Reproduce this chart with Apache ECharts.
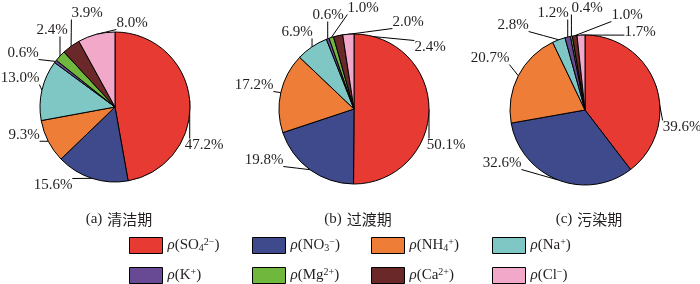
<!DOCTYPE html>
<html>
<head>
<meta charset="utf-8">
<script src="https://cdn.jsdelivr.net/npm/echarts@6/dist/echarts.min.js"></script>
<style>html,body{margin:0;padding:0;background:#fff;}#c{width:700px;height:284px;}</style>
</head>
<body>
<div id="c"></div>
<script>
var ions = ['SO4', 'NO3', 'NH4', 'Na', 'K', 'Mg', 'Ca', 'Cl'];
var captions = ['(a)', '(b)', '(c)'];
var periods = ['清洁期', '过渡期', '污染期'];
var cleanValues = [47.2, 15.6, 9.3, 13.0, 0.6, 2.4, 3.9, 8.0];
var transitionValues = [50.1, 19.8, 17.2, 6.9, 0.6, 1.0, 2.0, 2.4];
var pollutedValues = [39.6, 32.6, 20.7, 2.8, 1.2, 0.4, 1.0, 1.7];
var periodValues = [cleanValues, transitionValues, pollutedValues];

// styling / layout (not data)
var colors = ['#E63A32', '#3E4A8C', '#EE7E37', '#7EC7C5', '#684A94', '#70B83D', '#6B2828', '#F1A8C9'];
var centers = [[115, 107], [354, 109], [585, 110]];
var radius = 75;
var labelOffsets = [
  [[89, 38], [-62, 78], [-91, 28], [-95, -29], [-92, -54], [-63, -77], [-28, -94], [17, -84]],
  [[92, 36], [-90, 51], [-100, -24], [-57, -77], [-26, -94], [9, -101], [54, -87], [76, -62]],
  [[97, 17], [-83, 53], [-95, -52], [-72, -85], [-32, -97], [2, -102], [42, -95], [55, -78]]
];
var legendRich = {
  SO4: '{i|ρ}{t|(SO}{sub|4}{sup|2−}{t|)}',
  NO3: '{i|ρ}{t|(NO}{sub|3}{sup|−}{t|)}',
  NH4: '{i|ρ}{t|(NH}{sub|4}{sup|+}{t|)}',
  Na: '{i|ρ}{t|(Na}{sup|+}{t|)}',
  K: '{i|ρ}{t|(K}{sup|+}{t|)}',
  Mg: '{i|ρ}{t|(Mg}{sup|2+}{t|)}',
  Ca: '{i|ρ}{t|(Ca}{sup|2+}{t|)}',
  Cl: '{i|ρ}{t|(Cl}{sup|−}{t|)}'
};
var serif = '"Liberation Serif", "Times New Roman", serif';

var series = periodValues.map(function (vals, s) {
  return {
    type: 'pie',
    center: centers[s],
    radius: radius,
    startAngle: 90,
    clockwise: true,
    animation: false,
    avoidLabelOverlap: false,
    itemStyle: { borderColor: '#000', borderWidth: 1 },
    emphasis: { disabled: true },
    label: {
      show: true,
      position: 'outside',
      formatter: function (p) { return p.value.toFixed(1) + '%'; },
      fontFamily: serif,
      fontSize: 15,
      color: '#231F20'
    },
    labelLine: { show: true, length: 8, length2: 8, lineStyle: { color: '#000', width: 1 } },
    labelLayout: function (p) {
      var off = labelOffsets[s][p.dataIndex];
      var x = centers[s][0] + off[0];
      var y = centers[s][1] + off[1];
      var w = p.labelRect.width, h = p.labelRect.height;
      var res = { x: x, y: y, align: 'center', verticalAlign: 'middle' };
      if (p.labelLinePoints && p.labelLinePoints[0]) {
        var st = p.labelLinePoints[0];
        var ex = Math.min(Math.max(st[0], x - w / 2), x + w / 2);
        var ey = Math.min(Math.max(st[1], y - h / 2 + 1), y + h / 2 - 1);
        res.labelLinePoints = [st, [(st[0] + ex) / 2, (st[1] + ey) / 2], [ex, ey]];
      }
      return res;
    },
    data: ions.map(function (n, i) {
      return { name: n, value: vals[i], itemStyle: { color: colors[i] } };
    })
  };
});

var legendLeft = [129, 252, 371, 492];
var legendTop = [237, 267];
var legends = ions.map(function (name, i) {
  return {
    orient: 'horizontal',
    left: legendLeft[i % 4],
    top: legendTop[Math.floor(i / 4)],
    padding: 0,
    itemWidth: 33,
    itemHeight: 16,
    icon: 'rect',
    selectedMode: false,
    itemStyle: { borderColor: '#000', borderWidth: 1 },
    data: [name],
    formatter: function (n) { return legendRich[n]; },
    textStyle: {
      fontFamily: serif,
      fontSize: 15,
      color: '#231F20',
      rich: {
        i: { fontFamily: serif, fontSize: 15, fontStyle: 'italic', lineHeight: 16, color: '#231F20' },
        t: { fontFamily: serif, fontSize: 15, lineHeight: 16, color: '#231F20' },
        sub: { fontFamily: serif, fontSize: 10, lineHeight: 10, verticalAlign: 'bottom', color: '#231F20' },
        sup: { fontFamily: serif, fontSize: 10, lineHeight: 10, verticalAlign: 'top', color: '#231F20' }
      }
    }
  };
});

var titles = periods.map(function (p, s) {
  return {
    text: '{a|' + captions[s] + '} {b|' + p + '}',
    left: centers[s][0] - 1,
    top: 205,
    textAlign: 'center',
    textStyle: {
      fontWeight: 'normal',
      rich: {
        a: { fontFamily: serif, fontSize: 15, fontWeight: 'normal', color: '#231F20' },
        b: { fontFamily: '"Noto Sans CJK SC", sans-serif', fontSize: 15, fontWeight: 'normal', color: '#231F20' }
      }
    }
  };
});

var chart = echarts.init(document.getElementById('c'), null, { renderer: 'canvas' });
chart.setOption({
  backgroundColor: '#fff',
  animation: false,
  title: titles,
  legend: legends,
  series: series
});
</script>
</body>
</html>
